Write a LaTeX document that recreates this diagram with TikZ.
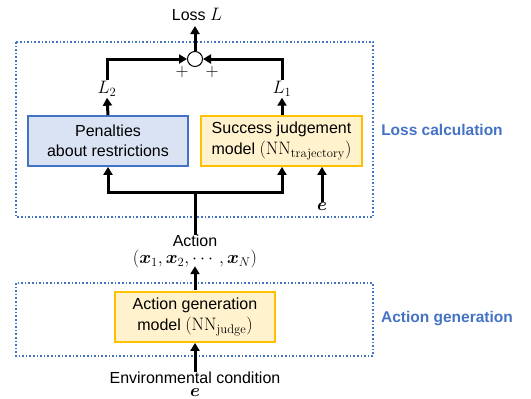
\RequirePackage{fix-cm}
\documentclass[tikz,border=0pt]{standalone}
\usepackage[no-math]{fontspec}
\setmainfont{Liberation Sans}
\usepackage{amsmath,bm}
\usetikzlibrary{arrows.meta,calc}
\definecolor{myblue}{HTML}{4472C4}
\definecolor{lblue}{HTML}{DAE3F3}
\definecolor{myorange}{HTML}{FFC000}
\definecolor{lorange}{HTML}{FFF2CC}
\newcommand\mth[1]{{\fontsize{18}{20}\selectfont$#1$}}
\begin{document}
\begin{tikzpicture}[x=1pt,y=-1pt,
  every node/.style={font=\fontsize{16}{20.5}\selectfont, inner sep=0pt},
  conn/.style={line width=3pt},
  arr/.style={line width=3pt,-{Triangle[length=8pt,width=9pt]}},
  bluebox/.style={draw=myblue,fill=lblue,line width=1.8pt,minimum width=160pt,minimum height=50pt,align=center,inner sep=0pt},
  orangebox/.style={draw=myorange,fill=lorange,line width=1.8pt,minimum width=161pt,minimum height=50pt,align=center,inner sep=0pt},
  dotbox/.style={draw=myblue,dotted,line width=1.6pt},
  seclabel/.style={text=myblue,font=\fontsize{15.5}{18}\selectfont\bfseries}]
\useasboundingbox (0,0) rectangle (531,399);
% dotted groups
\draw[dotbox] (16,42) rectangle (373,217);
\draw[dotbox] (16,283) rectangle (373,356);
\node[seclabel] (lcl) at (442,130) {Loss calculation};
\node[seclabel] (agl) at (447,319) {Action generation};
% boxes
\node[bluebox] (pen) at (108,141) {Penalties\\about restrictions};
\node[orangebox] (succ) at (281.5,141) {Success judgement\\model \mth{(\mathrm{NN}_{\mathrm{trajectory}})}};
\node[orangebox,minimum width=160pt] (agm) at (195,317) {Action generation\\model \mth{(\mathrm{NN}_{\mathrm{judge}})}};
% labels
\node (loss) at (197,14) {Loss \mth{L}};
\node[circle,draw,line width=1pt,fill=white,minimum size=15pt,inner sep=0pt] (sum) at (195,59) {};
\node[inner sep=1pt] (l2) at (107,89) {\mth{L_2}};
\node[inner sep=1pt] (l1) at (282,89) {\mth{L_1}};
\node (p1) at (182,72) {\mth{+}};
\node (p2) at (212,72) {\mth{+}};
\node (act) at (195,241) {Action};
\node (tup) at (195,259) {\mth{(\bm{x}_1,\bm{x}_2,\cdots,\bm{x}_N)}};
\node (e1) at (322,206) {\mth{\bm{e}}};
\node (env) at (195,378) {Environmental condition};
\node (e2) at (195,392) {\mth{\bm{e}}};
\coordinate (junc) at (195,192);
% connectors
\draw[arr] (sum.north) -- (195,26);
\draw[arr] (pen.north) -- (l2.south);
\draw[arr] (succ.north -| l1) -- (l1.south);
\draw[arr] (l2.north) |- (sum.west);
\draw[arr] (l1.north) |- (sum.east);
\draw[conn] (act.north) -- (junc);
\draw[arr] (junc) -| (pen.south);
\draw[arr] (junc) -| (succ.south -| l1);
\draw[arr] (e1.north) -- (e1.north |- succ.south);
\draw[arr] ([yshift=1pt]agm.north) -- ([yshift=2pt]tup.south);
\draw[arr] (env.north) -- (agm.south);
\end{tikzpicture}
\end{document}
